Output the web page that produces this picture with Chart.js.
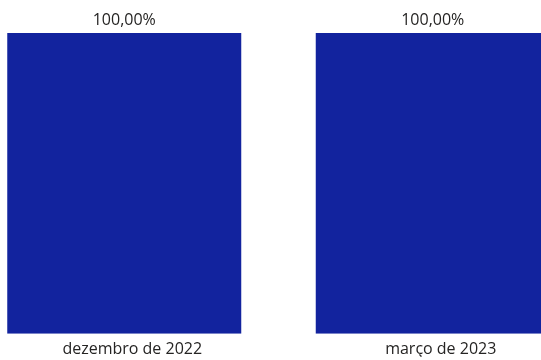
<!DOCTYPE html>
<html>
<head>
<meta charset="utf-8">
<script src="https://cdn.jsdelivr.net/npm/chart.js@4"></script>
<style>
  html, body { margin: 0; padding: 0; background: #fff; overflow: hidden; }
  #wrap { position: relative; width: 541px; height: 360px; overflow: hidden; }
  #box { position: absolute; left: -30px; top: 0; width: 617px; height: 360px; }
</style>
</head>
<body>
<div id="wrap"><div id="box"><canvas id="chart"></canvas></div></div>
<script>
const categories = ['dezembro de 2022', 'março de 2023'];
const percentValues = [100, 100];
const valueLabels = ['100,00%', '100,00%'];

const FONT = '"Open Sans", "Noto Sans", sans-serif';
const TEXT = '#252423';

// draws the value above each bar
const valueLabelPlugin = {
  id: 'valueLabels',
  afterDatasetsDraw(chart) {
    const { ctx } = chart;
    const meta = chart.getDatasetMeta(0);
    ctx.save();
    ctx.font = `16px ${FONT}`;
    ctx.fillStyle = TEXT;
    ctx.textAlign = 'center';
    ctx.textBaseline = 'bottom';
    meta.data.forEach((bar, i) => {
      ctx.fillText(valueLabels[i], bar.x, bar.y - 5);
    });
    ctx.restore();
  }
};

new Chart(document.getElementById('chart'), {
  type: 'bar',
  data: {
    labels: categories,
    datasets: [{
      data: percentValues,
      backgroundColor: '#12239E',
      borderWidth: 0,
      barPercentage: 0.7585,
      categoryPercentage: 1
    }]
  },
  options: {
    responsive: true,
    maintainAspectRatio: false,
    animation: false,
    layout: { padding: { top: 33, bottom: 3, left: 0, right: 0 } },
    plugins: { legend: { display: false }, tooltip: { enabled: false } },
    scales: {
      x: {
        grid: { display: false },
        border: { display: false },
        ticks: { color: TEXT, font: { family: FONT, size: 16 }, padding: -2, labelOffset: 8, maxRotation: 0 }
      },
      y: { display: false, min: 0, max: 100 }
    }
  },
  plugins: [valueLabelPlugin]
});
</script>
</body>
</html>
